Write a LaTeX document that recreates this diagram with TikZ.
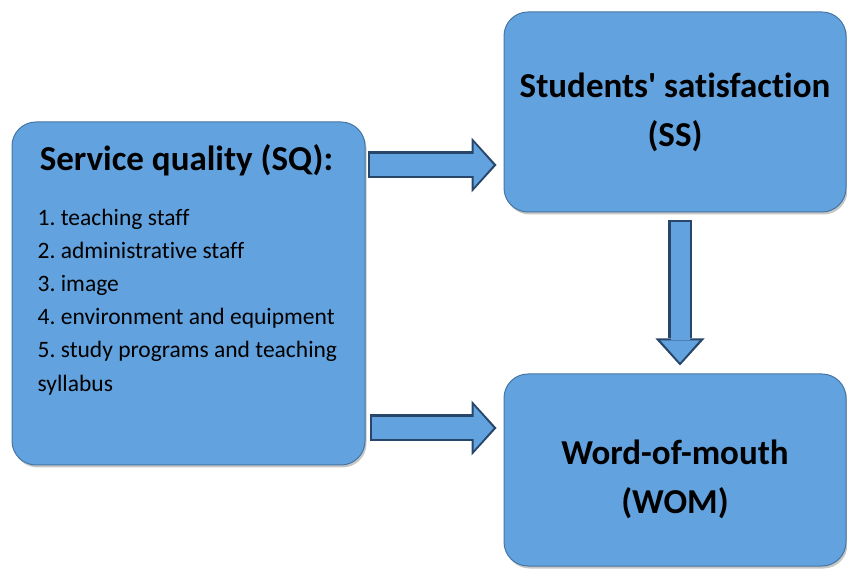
\documentclass[tikz,border=0pt]{standalone}
\usepackage{fontspec}
\setmainfont[Ligatures={NoCommon,NoContextual}]{Carlito}
\usetikzlibrary{calc,shadows,arrows.meta}

\definecolor{boxblue}{RGB}{98,162,222}
\definecolor{rimblue}{RGB}{70,118,165}
\definecolor{arrowdark}{RGB}{40,70,105}

\begin{document}
\frenchspacing
\begin{tikzpicture}[x=1pt,y=-1pt,
    bluebox/.style={rectangle,rounded corners=24pt,fill=boxblue,draw=rimblue,line width=1pt,
        drop shadow={shadow xshift=1.5pt,shadow yshift=-2.5pt,opacity=0.45},
        align=center,font=\fontsize{35}{49}\selectfont\bfseries},
    arrowrim/.style={line width=27pt,arrowdark,-{Triangle[length=25pt,width=55pt,line width=0pt]}},
    arrowbody/.style={line width=22pt,boxblue,-{Triangle[length=20pt,width=45pt,line width=0pt]}}]

        \useasboundingbox (0,0) rectangle (847,569);

        % Boxes
        \node[bluebox,minimum width=353pt,minimum height=343pt] (sq) at (188.5,293.5) {};
        \node[bluebox,minimum width=342pt,minimum height=200pt] (ss) at (675,112) {Students\textquotesingle{} satisfaction\\(SS)};
        \node[bluebox,minimum width=342pt,minimum height=192pt,text height=93pt] (wom) at (675,470) {Word-of-mouth\\(WOM)};

        % Text of the service quality box
        \node[anchor=base,font=\fontsize{35}{42}\selectfont\bfseries] (sqtitle) at ($(sq.north)+(-2,49)$) {Service quality (SQ):};
        \node[anchor=north west,align=left,inner sep=0pt,font=\fontsize{23.5}{33.2}\selectfont] (sqlist) at ($(sq.north west)+(26,87)$)
            {1. teaching staff\\2. administrative staff\\3. image\\4. environment and equipment\\5. study programs and teaching\\syllabus};

        % Block arrows
        \coordinate (a1) at (0,165);
        \coordinate (a2) at (0,428);
        \coordinate (a3) at (680,0);
        \draw[arrowrim,shorten <=2pt,shorten >=7pt] (sq.east |- a1) -- (ss.west |- a1);
        \draw[arrowbody,shorten <=4pt,shorten >=10pt] (sq.east |- a1) -- (ss.west |- a1);
        \draw[arrowrim,shorten <=4pt,shorten >=7pt] (sq.east |- a2) -- (wom.west |- a2);
        \draw[arrowbody,shorten <=6pt,shorten >=10pt] (sq.east |- a2) -- (wom.west |- a2);
        \draw[arrowrim,line width=24pt,-{Triangle[length=27pt,width=49pt,line width=0pt]},shorten <=8pt,shorten >=8pt] (ss.south -| a3) -- (wom.north -| a3);
        \draw[arrowbody,line width=19pt,-{Triangle[length=22pt,width=39pt,line width=0pt]},shorten <=10pt,shorten >=11pt] (ss.south -| a3) -- (wom.north -| a3);

    \end{tikzpicture}
\end{document}
